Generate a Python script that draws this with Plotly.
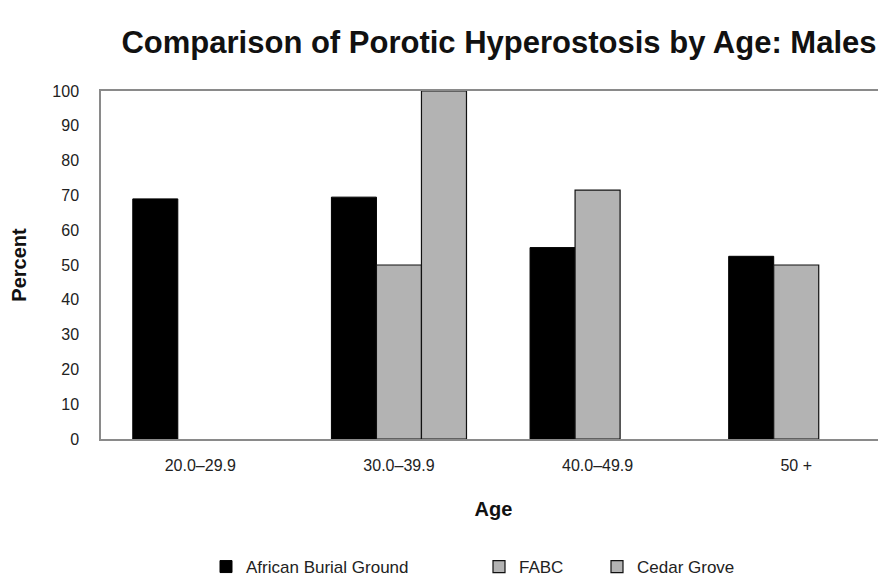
import plotly.graph_objects as go

age_groups = ["20.0–29.9", "30.0–39.9", "40.0–49.9", "50 +"]
african_burial_ground = [69, 69.5, 55, 52.5]
fabc = [None, 50, 71.5, 50]
cedar_grove = [None, 100, None, None]
y_ticks = list(range(0, 101, 10))

# The page body has an 8px default margin, so the figure is sized to fit the window.
W, H = 878, 573
ML, MT, MB = 93, 83, 142

fig = go.Figure()
fig.add_trace(go.Bar(name="African Burial Ground", x=age_groups, y=african_burial_ground,
                     marker=dict(color="#000000", line=dict(color="#000000", width=1)),
                     legend="legend"))
fig.add_trace(go.Bar(name="FABC", x=age_groups, y=fabc,
                     marker=dict(color="#b3b3b3", line=dict(color="#111111", width=1.2)),
                     legend="legend2"))
fig.add_trace(go.Bar(name="Cedar Grove", x=age_groups, y=cedar_grove,
                     marker=dict(color="#b3b3b3", line=dict(color="#111111", width=1.2)),
                     legend="legend3"))

plot_w = W - ML
def lx(px):
    # pixel x in window -> paper fraction
    return (px - 8 - ML) / plot_w

leg_y = (439 - 567) / 348.0
leg_common = dict(orientation="h", xanchor="left", y=leg_y, yanchor="middle",
                  font=dict(size=17, color="#222222"), bgcolor="rgba(0,0,0,0)")

fig.update_layout(
    width=W, height=H,
    margin=dict(l=ML, r=0, t=MT, b=MB, autoexpand=False),
    paper_bgcolor="white", plot_bgcolor="white",
    barmode="group", bargap=0.32, bargroupgap=0,
    font=dict(family="Liberation Sans, Arial, sans-serif", color="#222222", size=16),
    title=dict(text="<b>Comparison of Porotic Hyperostosis by Age: Males</b>",
               x=(499 - 8) / W, xanchor="center", xref="container",
               y=1 - (42 - 8) / H, yanchor="middle",
               font=dict(family="Liberation Sans, Arial", size=31, color="#111111")),
    showlegend=True,
    legend=dict(x=lx(206), **leg_common),
    legend2=dict(x=lx(479), **leg_common),
    legend3=dict(x=lx(597), **leg_common),
    xaxis=dict(range=[-0.5, 3.452], showline=True, linecolor="#8a8a8a", linewidth=1.5, mirror=True,
               showgrid=False, ticks="", ticklabelstandoff=11, tickfont=dict(size=16),
               automargin=False,
               title=dict(text="<b>Age</b>", font=dict(size=20, color="#111111"), standoff=29)),
    yaxis=dict(range=[0, 100], tickvals=y_ticks, showline=True, linecolor="#8a8a8a", linewidth=1.5,
               showgrid=False, zeroline=False, ticks="", ticklabelstandoff=17, tickfont=dict(size=16),
               automargin=False,
               title=dict(text="<b>Percent</b>", font=dict(size=20, color="#111111"), standoff=21)),
)

fig.write_html("out.html")
